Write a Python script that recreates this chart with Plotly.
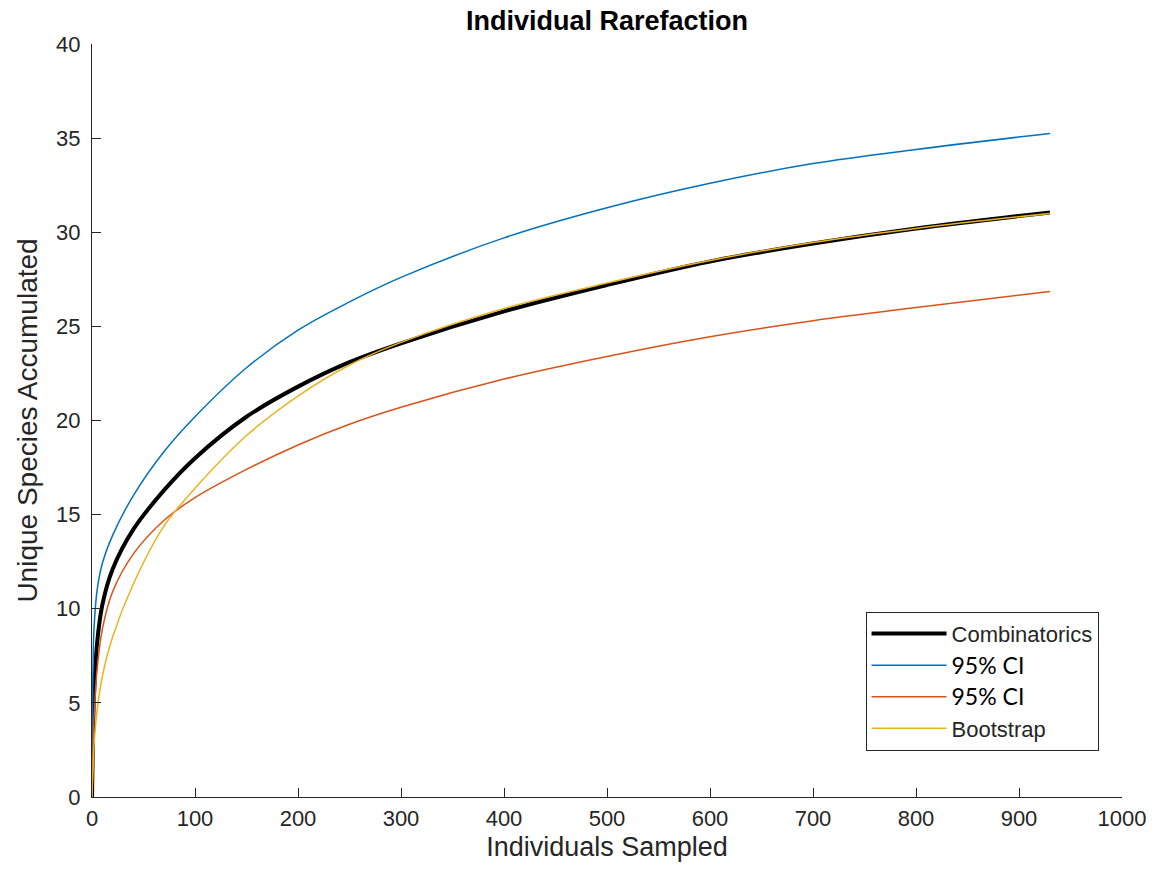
import plotly.graph_objects as go

# Data
individuals = [0, 1, 2, 5, 10, 20, 40, 70, 100, 150, 200, 250, 300, 400, 500, 600, 700, 800, 930]
combinatorics = [0, 3.5, 5.5, 8.2, 10.2, 12.1, 14.2, 16.3, 18.0, 20.2, 21.8, 23.1, 24.1, 25.8, 27.2, 28.45, 29.4, 30.2, 31.05]
ci_upper = [0, 7.0, 9.0, 11.0, 12.4, 13.9, 16.0, 18.35, 20.2, 22.8, 24.8, 26.3, 27.6, 29.7, 31.3, 32.6, 33.65, 34.4, 35.25]
ci_lower = [0, 2.5, 4.2, 6.8, 8.9, 10.9, 12.9, 14.7, 15.9, 17.4, 18.7, 19.8, 20.7, 22.2, 23.4, 24.45, 25.3, 26.0, 26.85]
bootstrap = [0, 1.5, 2.8, 4.6, 6.4, 8.5, 11.3, 14.4, 16.4, 19.2, 21.3, 22.95, 24.15, 25.95, 27.3, 28.5, 29.45, 30.2, 31.0]

x_ticks = list(range(0, 1001, 100))
y_ticks = list(range(0, 41, 5))

AX = "#262626"
CI_NAME = '<span style="font-family:Lato, sans-serif;font-size:23px;color:#000000">95% CI</span>'

fig = go.Figure()
fig.add_trace(go.Scatter(x=individuals, y=combinatorics, mode="lines", name="Combinatorics",
                         line=dict(color="#000000", width=4, shape="spline", smoothing=1.0)))
fig.add_trace(go.Scatter(x=individuals, y=ci_upper, mode="lines", name=CI_NAME,
                         line=dict(color="#0072BD", width=1.5, shape="spline", smoothing=1.0)))
fig.add_trace(go.Scatter(x=individuals, y=ci_lower, mode="lines", name=CI_NAME,
                         line=dict(color="#D95319", width=1.5, shape="spline", smoothing=1.0)))
fig.add_trace(go.Scatter(x=individuals, y=bootstrap, mode="lines", name="Bootstrap",
                         line=dict(color="#EDB120", width=1.5, shape="spline", smoothing=1.0)))

fig.update_layout(
    width=1158, height=876,
    margin=dict(l=92, r=33, t=44, b=79),
    paper_bgcolor="white", plot_bgcolor="white",
    font=dict(family="Liberation Sans, Arial, sans-serif", size=22, color=AX),
    title=dict(text="<b>Individual Rarefaction</b>", x=0.5, xref="paper", xanchor="center",
               y=0.987, yanchor="top", font=dict(size=27, color="#000000")),
    showlegend=True,
    legend=dict(x=0.751, y=0.246, xanchor="left", yanchor="top",
                bordercolor=AX, borderwidth=1, bgcolor="white",
                font=dict(size=22, color=AX), itemwidth=75, tracegroupgap=0),
)
fig.update_xaxes(range=[0, 1000], tickvals=x_ticks, ticktext=[str(v) for v in x_ticks],
                 showline=True, linecolor=AX, linewidth=1, ticks="inside", ticklen=9,
                 tickcolor=AX, showgrid=False, zeroline=False, mirror=False, ticklabelstandoff=2,
                 title=dict(text="Individuals Sampled", font=dict(size=27, color=AX), standoff=6))
fig.update_yaxes(range=[0, 40], tickvals=y_ticks, ticktext=[str(v) for v in y_ticks],
                 showline=True, linecolor=AX, linewidth=1, ticks="inside", ticklen=9,
                 tickcolor=AX, showgrid=False, zeroline=False, mirror=False, ticklabelstandoff=6,
                 title=dict(text="Unique Species Accumulated", font=dict(size=28, color=AX), standoff=10))

fig.write_html("out.html")
